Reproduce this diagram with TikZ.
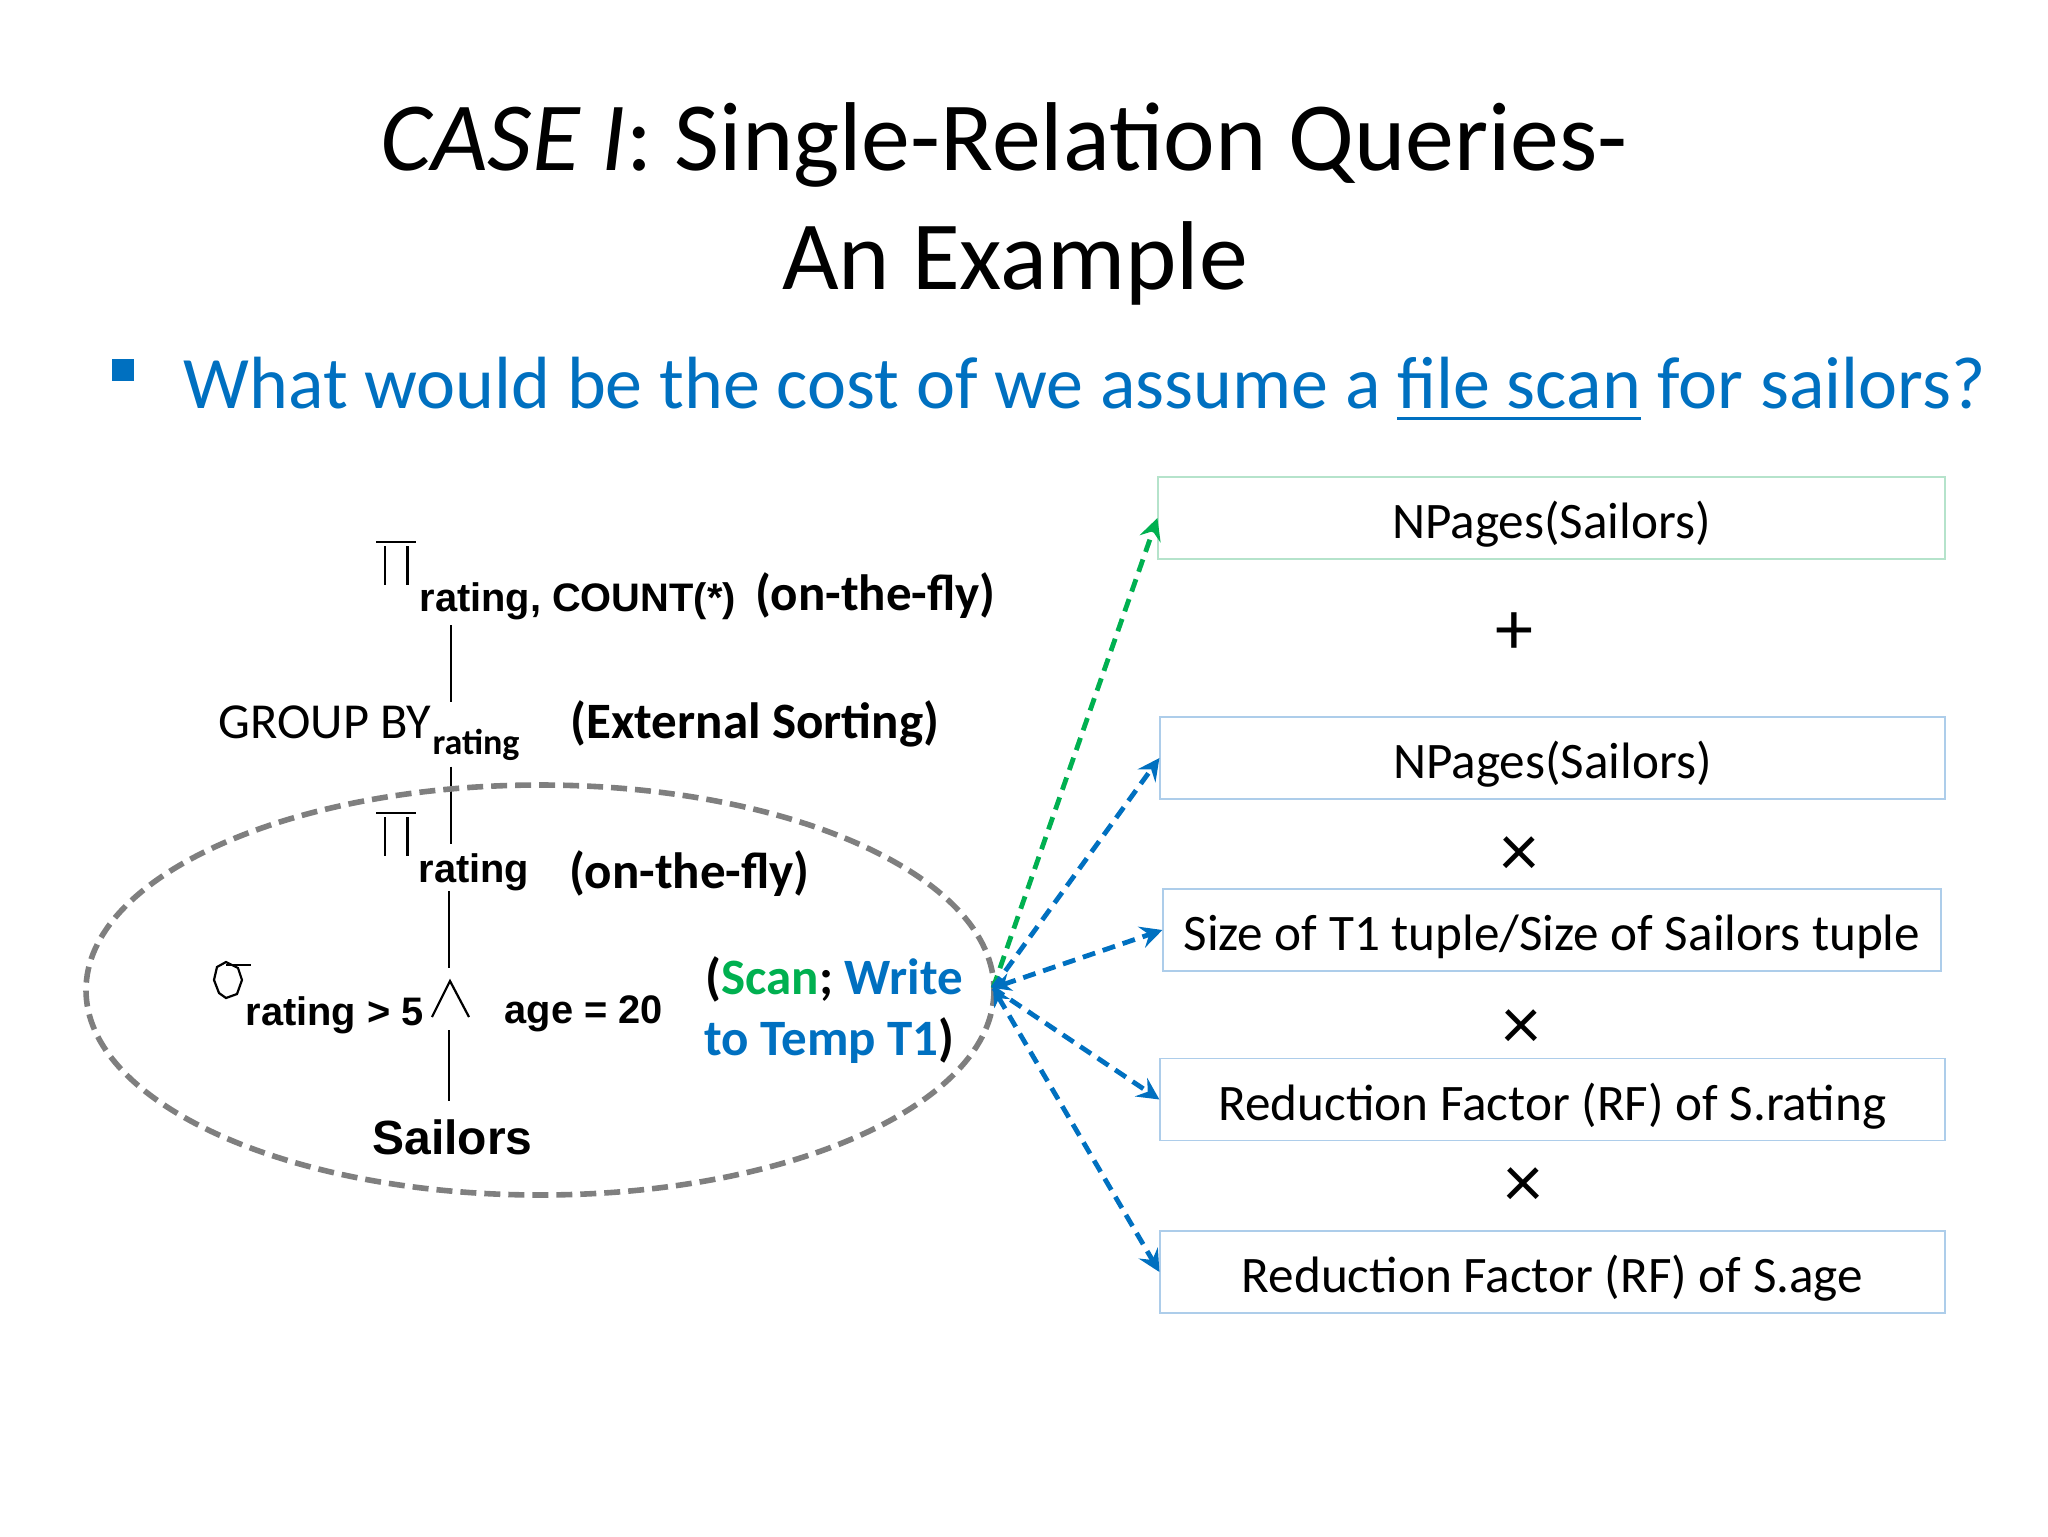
\documentclass[tikz,border=0pt]{standalone}
\usepackage{fontspec}
\setmainfont{Carlito}
\newfontfamily\arialfont{Liberation Sans}
\newcommand{\underl}[1]{\vtop{\hbox{#1}\kern 4pt\hrule height 1.7pt}}
\usetikzlibrary{arrows.meta,positioning}
\definecolor{bluetxt}{HTML}{0070C0}
\definecolor{greentxt}{HTML}{00B050}
\definecolor{greenbox}{HTML}{B5E3CB}
\definecolor{bluebox}{HTML}{ADCDEA}
\definecolor{ovalgray}{HTML}{7F7F7F}
\begin{document}
\begin{tikzpicture}[x=0.5pt, y=-0.5pt, semithick,
        txt/.style = {anchor=base west, inner sep=0pt},
        title/.style = {anchor=base, inner sep=0pt, font=\fontsize{48.9}{56}\selectfont},
        bullet/.style = {txt, text=bluetxt, font=\fontsize{37}{40}\selectfont},
        lab/.style = {txt, font=\fontsize{25.5}{28}\bfseries\selectfont},
        arial/.style = {txt, font=\fontsize{19.9}{24}\arialfont\bfseries\selectfont},
        plain/.style = {txt, font=\fontsize{25.2}{28}\selectfont},
        box/.style = {draw=bluebox, line width=0.6pt, inner sep=0pt, text height=20.5pt, text depth=0pt, font=\fontsize{25.6}{30}\selectfont},
        op/.style = {inner sep=0pt, font=\fontsize{38}{40}\selectfont},
        spine/.style = {draw, black, line width=1.1pt},
        arr/.style = {line width=2.4pt, bluetxt, dash pattern=on 6.5pt off 4pt, -{Stealth[length=11pt,width=11pt,inset=4pt]}},
        twoway/.style = {arr, {Stealth[length=9pt,width=9pt,inset=3pt]}-{Stealth[length=11pt,width=11pt,inset=4pt]}}]
    \useasboundingbox (0,0) rectangle (2048,1536);

    % title and bullet
    \node[title] (t1) at (1004,170) {\textit{CASE I}: Single-Relation Queries-};
    \node[title] (t2) at (1015,289) {An Example};
    \fill[bluetxt] (112,359) rectangle (134,381);
    \node[bullet] (q) at (183,408) {What would be the cost of we assume a \underl{file scan} for sailors?};

    % query tree
    \node[arial] (cnt) at (419,611) {rating, COUNT(*)};
    \node[lab] (fly1) at (755,610) {(on-the-fly)};
    \node[plain] (grp) at (218,738) {GROUP BY};
    \node[lab, font=\fontsize{18}{20}\bfseries\selectfont] (grpsub) at (432,754) {rating};
    \node[lab] (sort) at (570,738) {(External Sorting)};
    \node[arial] (rat) at (418,882) {rating};
    \node[lab] (fly2) at (569,888) {(on-the-fly)};
    \node[arial] (sel) at (245,1025) {rating > 5};
    \node[arial] (age) at (504,1023) {age = 20};
    \node[lab] (scan) at (705,994) {(\textcolor{greentxt}{Scan}; \textcolor{bluetxt}{Write}};
    \node[lab] (temp) at (704,1055) {\textcolor{bluetxt}{to Temp T1})};
    \node[arial, font=\fontsize{24}{28}\arialfont\bfseries\selectfont] (sail) at (372,1154) {Sailors};

    \draw[spine] ([shift={(32,14)}]cnt.base west) -- ([shift={(233,-36)}]grp.base west);
    \draw[spine] ([shift={(233,28.5)}]grp.base west) -- ([shift={(33,-38.5)}]rat.base west);
    \draw[spine] ([shift={(31,9)}]rat.base west) -- ([shift={(204,-57)}]sel.base west);
    \draw[spine] ([shift={(204,5)}]sel.base west) -- ([shift={(77,-53)}]sail.base west);

    % projection signs, select sign, and sign
    \foreach \y in {542,813} {
        \draw[spine] (376,\y) -- (416,\y);
        \draw[spine] (385,\y+4) -- (385,\y+43);
        \draw[spine] (407.5,\y+4) -- (407.5,\y+43);
    }
    \draw[spine] (226,962) -- (217,967) -- (214,980) -- (219,993) -- (226,998) -- (237,994) -- (242,980) -- (238,968) -- cycle;
    \draw[spine] (226,965) -- (251,965);
    \draw[spine] (432,1017) -- (450,981) -- (469,1017);

    \draw[ovalgray, line width=2.8pt, dash pattern=on 8pt off 4pt] (540,990) ellipse (454 and 205);

    % cost boxes
    \node[box, draw=greenbox, minimum width=787*0.5pt, minimum height=82*0.5pt] (b1) at (1551.5,518) {NPages(Sailors)};
    \node[box, minimum width=785*0.5pt, minimum height=82*0.5pt] (b2) at (1552.5,758) {NPages(Sailors)};
    \node[box, minimum width=778*0.5pt, minimum height=82*0.5pt] (b3) at (1552,930) {Size of T1 tuple/Size of Sailors tuple};
    \node[box, minimum width=785*0.5pt, minimum height=82*0.5pt] (b4) at (1552.5,1099.5) {Reduction Factor (RF) of S.rating};
    \node[box, minimum width=785*0.5pt, minimum height=82*0.5pt] (b5) at (1552.5,1272) {Reduction Factor (RF) of S.age};

    \node[op] (o1) at (1514,634) {+};
    \node[op] (o2) at (1519,857) {×};
    \node[op] (o3) at (1521,1030) {×};
    \node[op] (o4) at (1523,1188) {×};

    \coordinate (hub) at (993,988);
    \draw[arr, greentxt] (hub) -- (b1.west);
    \draw[arr] (hub) -- (b2.west);
    \draw[arr] (hub) -- (b4.west);
    \foreach \b in {b3,b5} {
        \draw[twoway] (hub) -- (\b.west);
    }
\end{tikzpicture}
\end{document}
